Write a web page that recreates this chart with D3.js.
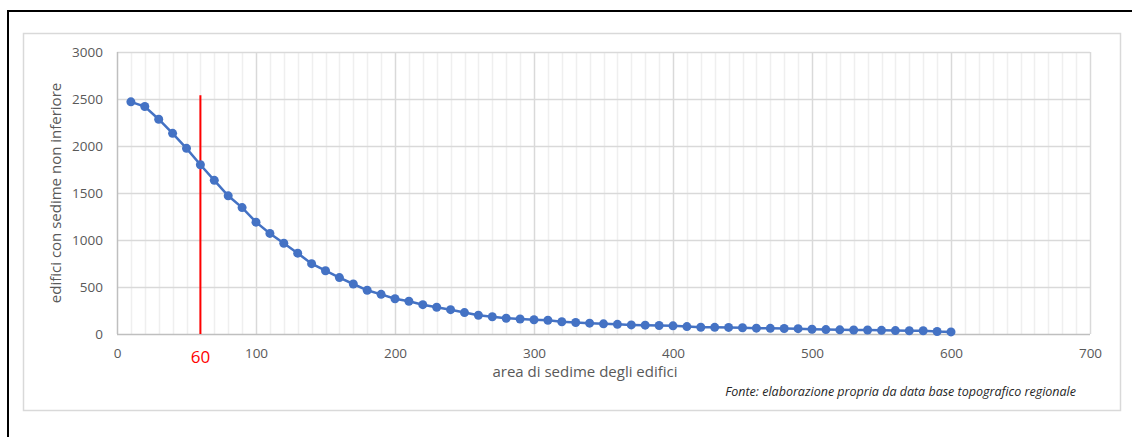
<!DOCTYPE html>
<html>
<meta charset="utf-8">
<title>edifici</title>
<style>
html,body{ margin:0; background:#fff; }
text { font-family: "Open Sans", "Liberation Sans", sans-serif; }
</style>
<script src="https://d3js.org/d3.v7.min.js"></script>
<body>
<script>

// area di sedime (m2) -> numero edifici con sedime non inferiore
var areas = d3.range(10, 601, 10);
var counts = [2470, 2420, 2285, 2135, 1975, 1800, 1635, 1470, 1345, 1190,
              1070, 965, 860, 748, 673, 600, 532, 465, 422, 375,
              348, 312, 284, 259, 228, 200, 184, 168, 160, 152,
              146, 130, 122, 115, 108, 103, 97, 94, 90, 87,
              79, 72, 71, 70, 67, 62, 60, 59, 57, 51,
              47, 44, 43, 42, 39, 36, 35, 34, 26, 22];
var xTicks = [0, 100, 200, 300, 400, 500, 600, 700];
var yTicks = [0, 500, 1000, 1500, 2000, 2500, 3000];
var soglia = 60, sogliaTop = 2540;

var width = 1132, height = 437;
var plot = {left: 117, top: 52, right: 1090, bottom: 334};
var font = "'Open Sans', 'Liberation Sans', sans-serif";

var svg = d3.select("body").append("svg")
    .attr("width", width)
    .attr("height", height);

// black frame (cropped)
svg.append("rect")
    .attr("x", 8).attr("y", 11)
    .attr("width", 1200).attr("height", 600)
    .attr("fill", "none").attr("stroke", "#000").attr("stroke-width", 2);

// chart area border
svg.append("rect")
    .attr("x", 23.5).attr("y", 33.5)
    .attr("width", 1097).attr("height", 377)
    .attr("fill", "#fff").attr("stroke", "#d9d9d9").attr("stroke-width", 1.5);

var x = d3.scaleLinear().domain([0, 700]).range([plot.left, plot.right]);
var y = d3.scaleLinear().domain([0, 3000]).range([plot.bottom, plot.top]);

var grid = svg.append("g");

// minor vertical gridlines
grid.selectAll("line.minor")
    .data(d3.range(10, 700, 10).filter(function(d){ return d % 100 != 0; }))
  .enter().append("line")
    .attr("class", "minor")
    .attr("x1", function(d){ return Math.round(x(d)) + 0.5; })
    .attr("x2", function(d){ return Math.round(x(d)) + 0.5; })
    .attr("y1", plot.top).attr("y2", plot.bottom)
    .attr("stroke", "#efefef").attr("stroke-width", 1.5);

// horizontal gridlines
grid.selectAll("line.h")
    .data(yTicks.slice(1))
  .enter().append("line")
    .attr("class", "h")
    .attr("x1", plot.left).attr("x2", plot.right)
    .attr("y1", function(d){ return Math.round(y(d)) + 0.5; })
    .attr("y2", function(d){ return Math.round(y(d)) + 0.5; })
    .attr("stroke", "#d9d9d9").attr("stroke-width", 1.5);

// major vertical gridlines
grid.selectAll("line.v")
    .data(xTicks)
  .enter().append("line")
    .attr("class", "v")
    .attr("x1", function(d){ return Math.round(x(d)) + 0.5; })
    .attr("x2", function(d){ return Math.round(x(d)) + 0.5; })
    .attr("y1", plot.top).attr("y2", plot.bottom)
    .attr("stroke", function(d){ return d == 0 ? "#bfbfbf" : "#d9d9d9"; })
    .attr("stroke-width", 1.5);

// x axis line
grid.append("line")
    .attr("x1", plot.left).attr("x2", plot.right)
    .attr("y1", plot.bottom + 0.5).attr("y2", plot.bottom + 0.5)
    .attr("stroke", "#bfbfbf").attr("stroke-width", 1.5);

// axes labels
var xAxis = svg.append("g")
    .attr("transform", "translate(0," + plot.bottom + ")")
    .call(d3.axisBottom(x).tickValues(xTicks).tickFormat(d3.format("d")).tickSize(0).tickPadding(14));
xAxis.select(".domain").remove();
xAxis.selectAll("text")
    .style("font-family", font)
    .style("font-size", "13.5px").attr("fill", "#595959");

var yAxis = svg.append("g")
    .attr("transform", "translate(" + (plot.left - 14) + ",0)")
    .call(d3.axisLeft(y).tickValues(yTicks).tickFormat(d3.format("d")).tickSize(0).tickPadding(0));
yAxis.select(".domain").remove();
yAxis.selectAll("text")
    .style("font-family", font)
    .style("font-size", "13.5px").attr("fill", "#595959");

// red threshold line
svg.append("line")
    .attr("x1", x(soglia)).attr("x2", x(soglia))
    .attr("y1", y(sogliaTop)).attr("y2", y(0))
    .attr("stroke", "#ff0000").attr("stroke-width", 2);

svg.append("text")
    .attr("x", x(soglia)).attr("y", 363)
    .attr("text-anchor", "middle")
    .attr("fill", "#ff0000")
    .style("font-size", "17px")
    .text(soglia);

// series
var line = d3.line()
    .x(function(d, i){ return x(areas[i]); })
    .y(function(d){ return y(d); });

svg.append("path")
    .datum(counts)
    .attr("d", line)
    .attr("fill", "none")
    .attr("stroke", "#4472c4")
    .attr("stroke-width", 2.5);

svg.selectAll("circle.pt")
    .data(counts)
  .enter().append("circle")
    .attr("class", "pt")
    .attr("cx", function(d, i){ return x(areas[i]); })
    .attr("cy", function(d){ return y(d); })
    .attr("r", 4.5)
    .attr("fill", "#4472c4");

// titles
svg.append("text")
    .attr("x", 585)
    .attr("y", 377)
    .attr("text-anchor", "middle")
    .attr("fill", "#595959")
    .style("font-size", "15px")
    .text("area di sedime degli edifici");

svg.append("text")
    .attr("transform", "translate(61," + ((plot.top + plot.bottom) / 2) + ") rotate(-90)")
    .attr("text-anchor", "middle")
    .attr("fill", "#595959")
    .style("font-size", "15px")
    .text("edifici con sedime non inferiore");

svg.append("text")
    .attr("x", 1076).attr("y", 396)
    .attr("text-anchor", "end")
    .attr("fill", "#262626")
    .style("font-size", "12.5px")
    .style("font-style", "italic")
    .text("Fonte: elaborazione propria da data base topografico regionale");

</script>
</body>
</html>
